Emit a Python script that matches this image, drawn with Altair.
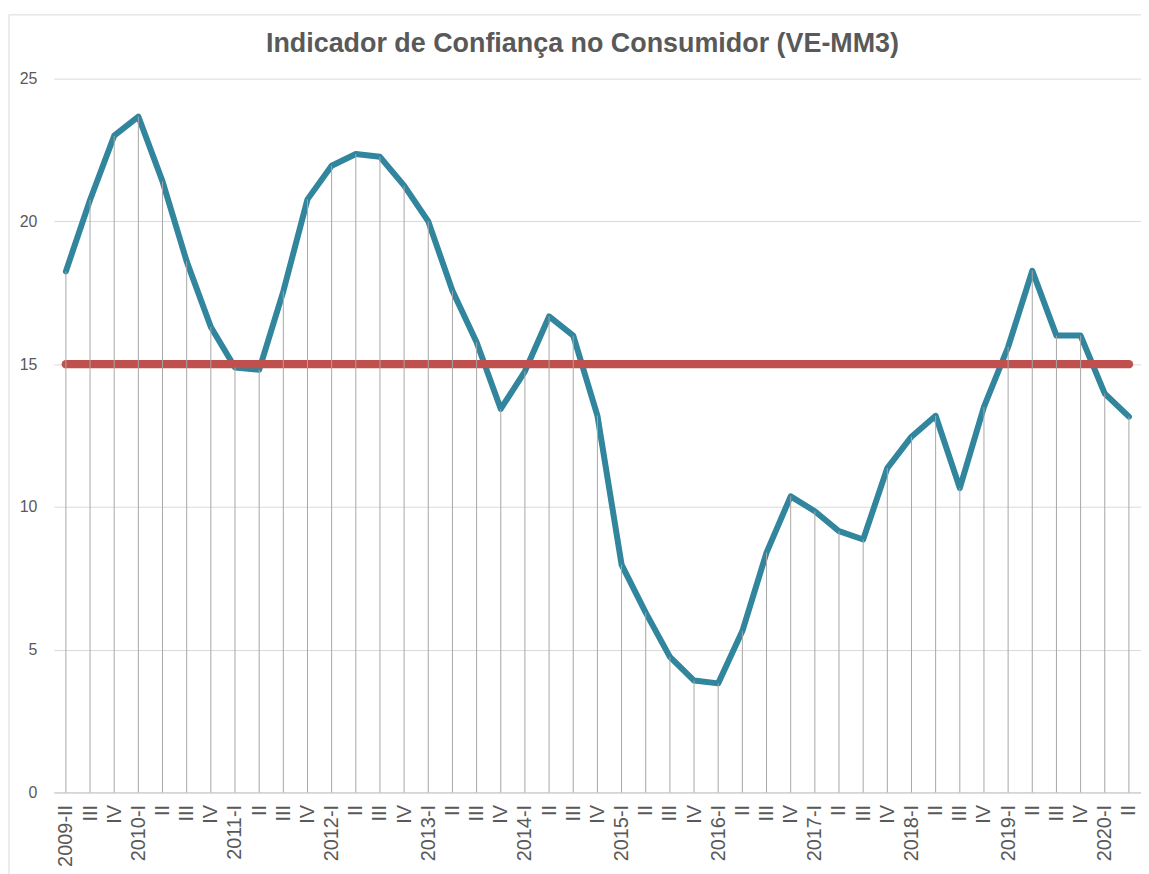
import json
import altair as alt
import pandas as pd

titulo = "Indicador de Confiança no Consumidor (VE-MM3)"
trimestres = [
    "2009-II", "2009-III", "2009-IV",
    "2010-I", "2010-II", "2010-III", "2010-IV",
    "2011-I", "2011-II", "2011-III", "2011-IV",
    "2012-I", "2012-II", "2012-III", "2012-IV",
    "2013-I", "2013-II", "2013-III", "2013-IV",
    "2014-I", "2014-II", "2014-III", "2014-IV",
    "2015-I", "2015-II", "2015-III", "2015-IV",
    "2016-I", "2016-II", "2016-III", "2016-IV",
    "2017-I", "2017-II", "2017-III", "2017-IV",
    "2018-I", "2018-II", "2018-III", "2018-IV",
    "2019-I", "2019-II", "2019-III", "2019-IV",
    "2020-I", "2020-II",
]
rotulos = [
    "2009-II", "III", "IV",
    "2010-I", "II", "III", "IV",
    "2011-I", "II", "III", "IV",
    "2012-I", "II", "III", "IV",
    "2013-I", "II", "III", "IV",
    "2014-I", "II", "III", "IV",
    "2015-I", "II", "III", "IV",
    "2016-I", "II", "III", "IV",
    "2017-I", "II", "III", "IV",
    "2018-I", "II", "III", "IV",
    "2019-I", "II", "III", "IV",
    "2020-I", "II",
]
valores = [
    18.25, 20.75, 23.0,
    23.67, 21.4, 18.6, 16.3,
    14.88, 14.8, 17.55, 20.77,
    21.95, 22.36, 22.26, 21.25,
    20.0, 17.57, 15.77, 13.43,
    14.75, 16.67, 16.0, 13.2,
    7.98, 6.3, 4.75, 3.92,
    3.82, 5.65, 8.4, 10.37,
    9.85, 9.15, 8.86, 11.36,
    12.46, 13.19, 10.66, 13.5,
    15.6, 18.27, 16.0, 16.0,
    13.97, 13.16,
]
limiar = 15
y_ticks = [0, 5, 10, 15, 20, 25]

df = pd.DataFrame({"idx": list(range(len(trimestres))), "trimestre": trimestres, "valor": valores})

FONT = "Liberation Sans"
GRAY_TXT = "#595959"

label_expr = json.dumps(rotulos) + "[datum.value]"

x_enc = alt.X(
    "idx:O",
    sort="ascending",
    scale=alt.Scale(type="point", padding=0.5),
    axis=alt.Axis(
        title=None,
        labelExpr=label_expr,
        labelAngle=-90,
        labelFontSize=20,
        labelColor=GRAY_TXT,
        labelFont=FONT,
        labelPadding=12,
        ticks=False,
        domain=True,
        domainColor="#c8c8c8",
        domainWidth=1,
        grid=False,
        labelOverlap=False,
    ),
)
y_scale = alt.Scale(domain=[0, 25], nice=False, zero=True)

single = alt.InlineData(values=[{}])

frame = alt.Chart(single).mark_rect(
    filled=False, stroke="#d9d9d9", strokeWidth=1
).encode(
    x=alt.value(-45), x2=alt.value(1094), y=alt.value(-64), y2=alt.value(830)
)

title_mark = alt.Chart(single).mark_text(
    font=FONT, fontSize=27, fontWeight="bold", color=GRAY_TXT,
    align="center", baseline="alphabetic",
).encode(
    x=alt.value(531), y=alt.value(-27), text=alt.value(titulo)
)

line = alt.Chart(df).mark_line(
    color="#31859c", strokeWidth=6, strokeCap="round", strokeJoin="round"
).encode(
    x=x_enc,
    y=alt.Y(
        "valor:Q",
        scale=y_scale,
        axis=alt.Axis(
            title=None,
            values=y_ticks,
            labelFontSize=16,
            labelColor=GRAY_TXT,
            labelFont=FONT,
            labelPadding=17,
            ticks=False,
            domain=False,
            grid=True,
            gridColor="#d9d9d9",
            gridWidth=1,
        ),
    ),
)

ref = alt.Chart(df).mark_line(
    color="#c0504d", strokeWidth=8.5, strokeCap="round"
).encode(
    x=alt.X("idx:O", sort="ascending"),
    y=alt.datum(limiar, scale=y_scale),
)

drops = alt.Chart(df).mark_rule(color="#a6a6a6", strokeWidth=1).encode(
    x=alt.X("idx:O", sort="ascending"),
    y=alt.Y("valor:Q", scale=y_scale),
    y2=alt.datum(0),
)

chart = alt.layer(frame, title_mark, line, ref, drops).properties(
    width=1092,
    height=717,
    autosize=alt.AutoSizeParams(type="none"),
    padding={"left": 46, "top": 69, "right": 0, "bottom": 80},
).configure_view(stroke=None)

chart.save("out.html", embed_options={"renderer": "svg", "actions": False})
